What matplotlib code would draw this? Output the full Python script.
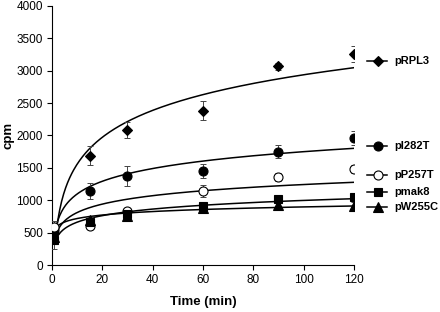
import numpy as np
import matplotlib
matplotlib.use("Agg")
import matplotlib.pyplot as plt
import matplotlib.transforms as mtrans

plt.rcParams['font.family'] = ['Liberation Sans', 'DejaVu Sans']

# time points (min)
time = [1, 15, 30, 60, 90, 120]

# measured cpm and error bars
rpl3 = [500, 1690, 2084, 2383, 3068, 3258]
rpl3_err = [120, 150, 125, 150, 50, 130]
i282t = [540, 1148, 1379, 1451, 1750, 1956]
i282t_err = [110, 125, 155, 108, 100, 108]
p257t = [580, 597, 834, 1147, 1363, 1477]
p257t_err = [100, 40, 50, 95, 60, 60]
mak8 = [380, 669, 783, 911, 1024, 1055]
mak8_err = [130, 50, 90, 60, 40, 40]
w255c = [430, 700, 760, 885, 926, 911]
w255c_err = [100, 40, 60, 70, 40, 60]

# logarithmic trendlines: cpm = a + b*ln(t)
fit_a = [174, 442, 377, 325, 538]
fit_b = [600, 284, 188, 146, 78]

names = ['pRPL3', 'pI282T', 'pP257T', 'pmak8', 'pW255C']
legend_y = [3150, 1837, 1390, 1127, 896]

series = [rpl3, i282t, p257t, mak8, w255c]
errs = [rpl3_err, i282t_err, p257t_err, mak8_err, w255c_err]
markers = ['D', 'o', 'o', 's', '^']
faces = ['black', 'black', 'white', 'black', 'black']
msizes = [5.5, 6.5, 6.5, 6, 6.5]

fig = plt.figure(figsize=(4.4, 3.12), dpi=100)
ax = fig.add_axes([0.118, 0.1506, 0.6865, 0.8304])

tt = np.linspace(1.5, 120, 300)
for i in range(5):
    ax.plot(tt, fit_a[i] + fit_b[i] * np.log(tt), color='black', lw=1.1, zorder=2)
    ax.errorbar(time, series[i], yerr=errs[i], fmt='none', ecolor='#444444',
                elinewidth=0.7, capsize=2, capthick=0.7, zorder=3)
    ax.plot(time, series[i], linestyle='none', marker=markers[i], ms=msizes[i],
            mfc=faces[i], mec='black', mew=0.8, zorder=4)

# legend drawn beside the plot
trans = mtrans.blended_transform_factory(ax.transAxes, ax.transData)
for i in range(5):
    ax.plot([1.042, 1.108], [legend_y[i]] * 2, color='black', lw=1.1,
            transform=trans, clip_on=False)
    ax.plot([1.08], [legend_y[i]], marker=markers[i], ms=msizes[i],
            mfc=faces[i], mec='black', mew=0.8, transform=trans, clip_on=False)
    ax.text(1.133, legend_y[i], names[i], transform=trans, va='center',
            ha='left', fontsize=8, fontweight='bold')

ax.set_xlim(0, 120)
ax.set_ylim(0, 4000)
ax.set_xticks(range(0, 121, 20))
ax.set_yticks(range(0, 4001, 500))
ax.spines['top'].set_visible(False)
ax.spines['right'].set_visible(False)
ax.tick_params(direction='out', length=3.5, width=0.8, labelsize=8.5, pad=3)
ax.set_xlabel('Time (min)', fontsize=9.5, fontweight='bold')
ax.set_ylabel('cpm', fontsize=9.5, fontweight='bold')
ax.xaxis.set_label_coords(0.5, -0.12)
ax.yaxis.set_label_coords(-0.125, 0.5)

fig.savefig('out.png', dpi=100)
